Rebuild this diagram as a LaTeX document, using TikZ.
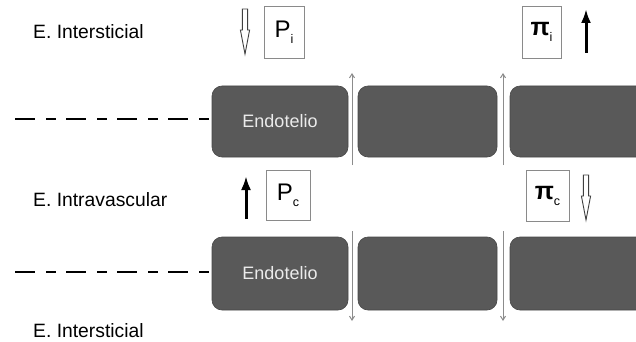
\documentclass[tikz,border=0pt]{standalone}
\usepackage{fontspec}
\setmainfont{Liberation Sans}
\usetikzlibrary{arrows.meta}
\definecolor{blockgray}{HTML}{595959}
\definecolor{boxgray}{HTML}{8A8A8A}
\definecolor{thingray}{HTML}{8C8C8C}
\tikzset{
  block/.style={fill=blockgray, draw=blockgray!80!black, line width=0.6pt, rounded corners=10pt, text=white!92!black, font=\fontsize{18}{18}\selectfont, inner sep=0pt},
  label/.style={anchor=base west, inner sep=0pt, font=\fontsize{19.3}{19.3}\selectfont},
  varbox/.style={draw=boxgray, line width=0.9pt, fill=white, inner sep=0pt},
  thinarrow/.style={draw=thingray, line width=1pt, -{Straight Barb[length=4pt,width=5pt]}},
  blackarrow/.style={draw=black, line width=3pt, -{Latex[length=14pt,width=10pt]}},
  dashline/.style={line width=1.6pt, dash pattern=on 20pt off 11pt on 10pt off 10pt},
  hollowdown/.pic={\draw[draw=black!75, line width=0.9pt, fill=white, line join=miter]
     (-2.6,0) -- (2.6,0) -- (2.6,21) -- (4.6,21) -- (0,45) -- (-4.6,21) -- (-2.6,21) -- cycle;}
}
\newcommand{\bigsym}[2]{{\fontsize{24}{24}\selectfont #1}\raisebox{-6pt}{\fontsize{12.5}{12.5}\selectfont #2}}
\newcommand{\pisym}[1]{{\fontsize{25}{25}\selectfont\bfseries π}\raisebox{-6pt}{\fontsize{12.5}{12.5}\selectfont #1}}
\begin{document}
\begin{tikzpicture}[x=1pt,y=-1pt]
\useasboundingbox (0,0) rectangle (636,342);
\clip (0,0) rectangle (636,342);
\fill[white] (0,0) rectangle (636,342);

% labels
\node[label] (l1) at (33,39) {E. Intersticial};
\node[label] (l2) at (33,206) {E. Intravascular};
\node[label] (l3) at (33,337) {E. Intersticial};

% top row of blocks
\node[block, minimum width=136pt, minimum height=71pt] (t1) at (280,121.5) {Endotelio};
\node[block, minimum width=139pt, minimum height=71pt] (t2) at (427.5,121.5) {};
\node[block, minimum width=150pt, minimum height=71pt] (t3) at (585,121.5) {};

% bottom row of blocks
\node[block, minimum width=136pt, minimum height=73pt] (u1) at (280,273.5) {Endotelio};
\node[block, minimum width=139pt, minimum height=73pt] (u2) at (427.5,273.5) {};
\node[block, minimum width=150pt, minimum height=73pt] (u3) at (585,273.5) {};

% dashed lines
\coordinate (d1) at (15,119);
\coordinate (d2) at (15,272);
\draw[dashline] (d1) -- (t1.west |- d1);
\draw[dashline] (d2) -- (u1.west |- d2);

% thin arrows between blocks
\coordinate (a1s) at (352,165); \coordinate (a1e) at (352,73);
\coordinate (a2s) at (503,165); \coordinate (a2e) at (503,73);
\coordinate (a3s) at (352,231); \coordinate (a3e) at (352,321);
\coordinate (a4s) at (503,231); \coordinate (a4e) at (503,321);
\draw[thinarrow] (a1s) -- (a1e);
\draw[thinarrow] (a2s) -- (a2e);
\draw[thinarrow] (a3s) -- (a3e);
\draw[thinarrow] (a4s) -- (a4e);

% variable boxes
\node[varbox, minimum width=40pt, minimum height=52pt] (pi) at (284,32) {\bigsym{P}{i}};
\node[varbox, minimum width=39pt, minimum height=52pt] (ppi) at (541.5,32) {\pisym{i}};
\node[varbox, minimum width=44pt, minimum height=50pt] (pc) at (288,195) {\bigsym{P}{c}};
\node[varbox, minimum width=43pt, minimum height=51pt] (ppc) at (547.5,195.5) {\pisym{c}};

% direction arrows
\pic at (245,9) {hollowdown};
\pic at (586,175) {hollowdown};
\coordinate (b1s) at (586,53); \coordinate (b1e) at (586,9);
\coordinate (b2s) at (246,219); \coordinate (b2e) at (246,176);
\draw[blackarrow] (b1s) -- (b1e);
\draw[blackarrow] (b2s) -- (b2e);
\end{tikzpicture}
\end{document}
